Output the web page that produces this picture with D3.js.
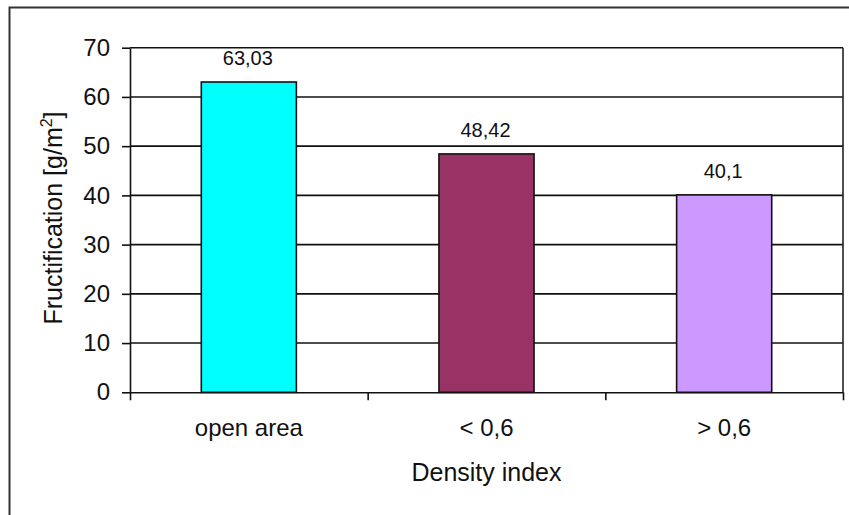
<!DOCTYPE html>
<html>
<head>
<meta charset="utf-8">
<script src="https://cdn.jsdelivr.net/npm/d3@7"></script>
<style>
  html, body { margin: 0; padding: 0; background: #fff; }
  svg { display: block; font-family: "Liberation Sans", Arial, sans-serif; }
</style>
</head>
<body>
<svg id="chart" width="849" height="515"></svg>
<script>
// Fructification by density index
const categories = ["open area", "< 0,6", "> 0,6"];
const values = [63.03, 48.42, 40.1];
const valueLabels = ["63,03", "48,42", "40,1"];
const barColors = ["#00FFFF", "#993366", "#CC99FF"];
const yTicks = [0, 10, 20, 30, 40, 50, 60, 70];

const svg = d3.select("#chart");
const W = 849, H = 515;
const plot = { left: 130, right: 843, top: 47.7, bottom: 392.3 };

// outer chart-area frame
svg.append("rect")
  .attr("x", 9.5).attr("y", 7.5)
  .attr("width", W + 20).attr("height", H + 20)
  .attr("fill", "#fff").attr("stroke", "#333").attr("stroke-width", 2);

const y = d3.scaleLinear().domain([0, 70]).range([plot.bottom, plot.top]);
const x = d3.scaleBand().domain(categories)
  .range([plot.left, plot.right])
  .paddingInner(0.6).paddingOuter(0.3);
const xEdge = d3.scaleLinear().domain([0, categories.length]).range([plot.left, plot.right]);

// horizontal gridlines
svg.append("g")
  .selectAll("line")
  .data(yTicks.filter(t => t > 0))
  .join("line")
  .attr("x1", plot.left).attr("x2", plot.right)
  .attr("y1", d => y(d)).attr("y2", d => y(d))
  .attr("stroke", "#111").attr("stroke-width", 1.6);

// plot frame (right side)
svg.append("line")
  .attr("x1", plot.right).attr("x2", plot.right)
  .attr("y1", plot.top).attr("y2", plot.bottom)
  .attr("stroke", "#222").attr("stroke-width", 1.6);

// bars
svg.append("g")
  .selectAll("rect")
  .data(categories)
  .join("rect")
  .attr("x", d => x(d))
  .attr("width", x.bandwidth())
  .attr("y", (d, i) => y(values[i]))
  .attr("height", (d, i) => y(0) - y(values[i]))
  .attr("fill", (d, i) => barColors[i])
  .attr("stroke", "#111").attr("stroke-width", 1.6);

// value labels
svg.append("g")
  .selectAll("text")
  .data(categories)
  .join("text")
  .attr("x", d => x(d) + x.bandwidth() / 2 - 1)
  .attr("y", (d, i) => y(values[i]) - 17)
  .attr("text-anchor", "middle")
  .attr("font-size", 20)
  .attr("fill", "#111")
  .text((d, i) => valueLabels[i]);

// y axis
const yAxis = svg.append("g")
  .attr("transform", `translate(${plot.left},0)`)
  .call(d3.axisLeft(y).tickValues(yTicks).tickSize(8).tickSizeOuter(0).tickPadding(12));
yAxis.selectAll("text").attr("font-size", 24).attr("fill", "#111")
  .attr("font-family", "'Liberation Sans', Arial, sans-serif");
yAxis.selectAll("line, path").attr("stroke", "#111").attr("stroke-width", 1.6);

// x axis line with category boundary ticks
const xAxis = svg.append("g")
  .attr("transform", `translate(0,${plot.bottom})`)
  .call(d3.axisBottom(xEdge).tickValues(d3.range(categories.length + 1))
    .tickFormat("").tickSize(8).tickSizeOuter(0));
xAxis.selectAll("line, path").attr("stroke", "#111").attr("stroke-width", 1.6);

// category labels
const xLabels = svg.append("g")
  .attr("transform", `translate(0,${plot.bottom})`)
  .call(d3.axisBottom(x).tickSize(0).tickPadding(27));
xLabels.select(".domain").remove();
xLabels.selectAll("text").attr("font-size", 24).attr("fill", "#111")
  .attr("font-family", "'Liberation Sans', Arial, sans-serif");

// axis titles
svg.append("text")
  .attr("x", (plot.left + plot.right) / 2)
  .attr("y", 481)
  .attr("text-anchor", "middle")
  .attr("font-size", 25)
  .attr("fill", "#111")
  .text("Density index");

const yTitle = svg.append("text")
  .attr("transform", `translate(62,218) rotate(-90)`)
  .attr("text-anchor", "middle")
  .attr("font-size", 25)
  .attr("fill", "#111");
yTitle.append("tspan").text("Fructification [g/m");
yTitle.append("tspan").attr("font-size", 16).attr("dy", -10).text("2");
yTitle.append("tspan").attr("dy", 10).text("]");
</script>
</body>
</html>
